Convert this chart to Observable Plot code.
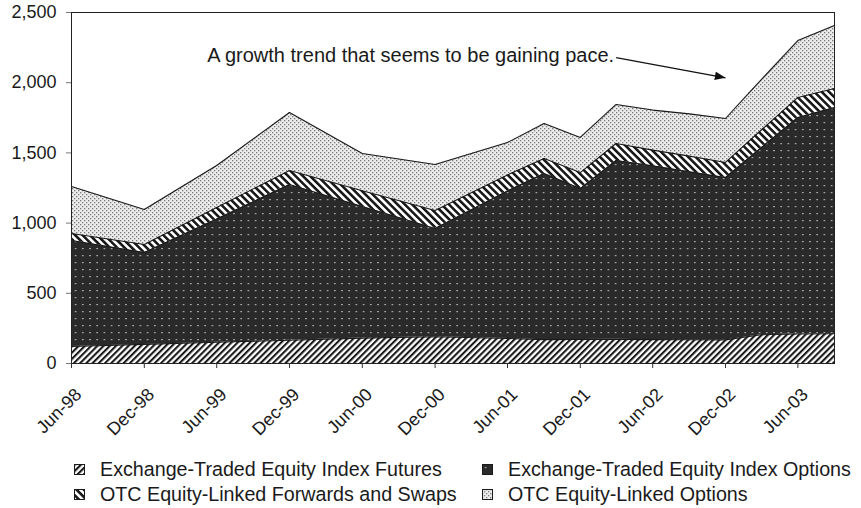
<!DOCTYPE html>
<html><head><meta charset="utf-8">
<script src="https://cdn.jsdelivr.net/npm/d3@7"></script>
<script src="https://cdn.jsdelivr.net/npm/@observablehq/plot@0.6"></script>
<style>
body{margin:0;background:#fff;font-family:"Liberation Sans",Arial,sans-serif;color:#1a1a1a;}
#chart{position:relative;width:861px;height:508px;overflow:hidden;}
.leg{position:absolute;font-size:19.7px;line-height:20px;white-space:nowrap;}
.sw{position:absolute;width:11px;height:11px;}
</style>
</head><body>
<svg width="0" height="0" style="position:absolute">
<defs>
<pattern id="pFut" patternUnits="userSpaceOnUse" width="4.4" height="4.4" patternTransform="rotate(45)">
<rect width="4.4" height="4.4" fill="#fff"/><rect width="2.1" height="4.4" fill="#1a1a1a"/></pattern>
<pattern id="pOpt" patternUnits="userSpaceOnUse" width="7.2" height="7" >
<rect width="7.2" height="7" fill="#2a2a2a"/><rect x="3" y="3" width="1.2" height="1.2" fill="#e0e0e0"/></pattern>
<pattern id="pFwd" patternUnits="userSpaceOnUse" width="5.2" height="5.2" patternTransform="rotate(-45)">
<rect width="5.2" height="5.2" fill="#fff"/><rect width="2.6" height="5.2" fill="#1a1a1a"/></pattern>
<pattern id="pOtc" patternUnits="userSpaceOnUse" width="4" height="4">
<rect width="4" height="4" fill="#ececec"/><rect x="0" y="0" width="1.3" height="1.3" fill="#7a7a7a"/><rect x="2" y="2" width="1.3" height="1.3" fill="#7a7a7a"/></pattern>
<marker id="ahead" viewBox="0 0 10 8" refX="10" refY="4" markerWidth="11" markerHeight="8.5" orient="auto" markerUnits="userSpaceOnUse">
<path d="M0,0L10,4L0,8z" fill="#111"/></marker>
</defs>
</svg>
<div id="chart"></div>
<script>
// ---- data ----
const periods = ["Jun-98","Dec-98","Jun-99","Dec-99","Jun-00","Dec-00","Jun-01","Sep-01","Dec-01","Mar-02","Jun-02","Sep-02","Dec-02","Mar-03","Jun-03","Sep-03"];
const seriesNames = ["Exchange-Traded Equity Index Futures","Exchange-Traded Equity Index Options","OTC Equity-Linked Forwards and Swaps","OTC Equity-Linked Options"];
const futures    = [121,136,151,166,181,190,178,170,171,172,170,169,168,205,210,212];
const options    = [755,654,878,1109,937,772,1051,1183,1075,1274,1238,1196,1157,1333,1542,1611];
const forwards   = [50,58,82,100,112,128,114,107,114,121,112,112,107,125,143,136];
const otcOptions = [335,249,299,413,266,327,231,249,250,278,285,301,313,359,405,448];
const xTickLabels = ["Jun-98","Dec-98","Jun-99","Dec-99","Jun-00","Dec-00","Jun-01","Dec-01","Jun-02","Dec-02","Jun-03"];
const yTicks = [0,500,1000,1500,2000,2500];
const noteText = ["A growth trend that seems to be gaining pace."];
const noteAt = ["Mar-02", 2190];
const arrowFrom = ["Mar-02", 2178];
const arrowTo = ["Dec-02", 2035];

const patterns = ["url(#pFut)","url(#pOpt)","url(#pFwd)","url(#pOtc)"];
const parse = d3.utcParse("%b-%y");
const allValues = [futures, options, forwards, otcOptions];
const data = [];
seriesNames.forEach((s, i) => periods.forEach((p, j) => data.push({date: parse(p), series: s, value: allValues[i][j]})));

const chart = Plot.plot({
  width: 861, height: 440,
  marginTop: 12, marginLeft: 71, marginRight: 27, marginBottom: 77,
  style: {fontFamily: '"Liberation Sans", Arial, sans-serif', color: "#1a1a1a", background: "#fff"},
  x: {type: "utc", domain: [parse("Jun-98"), parse("Sep-03")], label: null},
  y: {domain: [0, 2500], label: null},
  color: {domain: seriesNames, range: patterns},
  marks: [
    Plot.areaY(data, {x: "date", y: "value", z: "series", fill: "series", order: seriesNames}),
    Plot.lineY(data, Plot.stackY2({x: "date", y: "value", z: "series", order: seriesNames, stroke: "#1a1a1a", strokeWidth: 1.1})),
    Plot.frame({stroke: "#222", strokeWidth: 1}),
    Plot.axisY({ticks: yTicks, tickFormat: d3.format(","), tickSize: 5, tickPadding: 10, fontSize: 18, stroke: "#777", fill: "#1a1a1a", label: null}),
    Plot.axisX({ticks: xTickLabels.map(parse), tickFormat: () => "", tickSize: 5, stroke: "#333", label: null}),
    Plot.text(xTickLabels, {x: d => parse(d), y: () => 0, text: d => d, rotate: -45, textAnchor: "end", lineAnchor: "middle", dx: 7, dy: 28, fontSize: 18, fill: "#1a1a1a"}),
    Plot.text(noteText, {x: () => parse(noteAt[0]), y: () => noteAt[1], text: d => d, textAnchor: "end", dx: -2, fontSize: 20, fill: "#1a1a1a"}),
    Plot.link([0], {x1: () => parse(arrowFrom[0]), y1: () => arrowFrom[1], x2: () => parse(arrowTo[0]), y2: () => arrowTo[1], stroke: "#111", strokeWidth: 1.2})
  ]
});
const el = document.getElementById("chart");
el.appendChild(chart);
chart.querySelectorAll('[aria-label="link"] path, [aria-label="link"] line').forEach(p => p.setAttribute("marker-end", "url(#ahead)"));

// ---- legend ----
const legPos = [[74, 100, 461], [482, 508, 461], [74, 100, 486], [482, 508, 486]];
seriesNames.forEach((s, i) => {
  const [sx, tx, ty] = legPos[i];
  const sw = document.createElementNS("http://www.w3.org/2000/svg", "svg");
  sw.setAttribute("class", "sw");
  sw.setAttribute("width", 11); sw.setAttribute("height", 11);
  sw.style.left = sx + "px"; sw.style.top = (ty + 3) + "px";
  sw.innerHTML = `<rect x="0.5" y="0.5" width="10" height="10" fill="${patterns[i]}" stroke="#1a1a1a" stroke-width="1"/>`;
  el.appendChild(sw);
  const t = document.createElement("div");
  t.className = "leg"; t.textContent = s;
  t.style.left = tx + "px"; t.style.top = (ty - 2) + "px";
  el.appendChild(t);
});
</script>
</body></html>
